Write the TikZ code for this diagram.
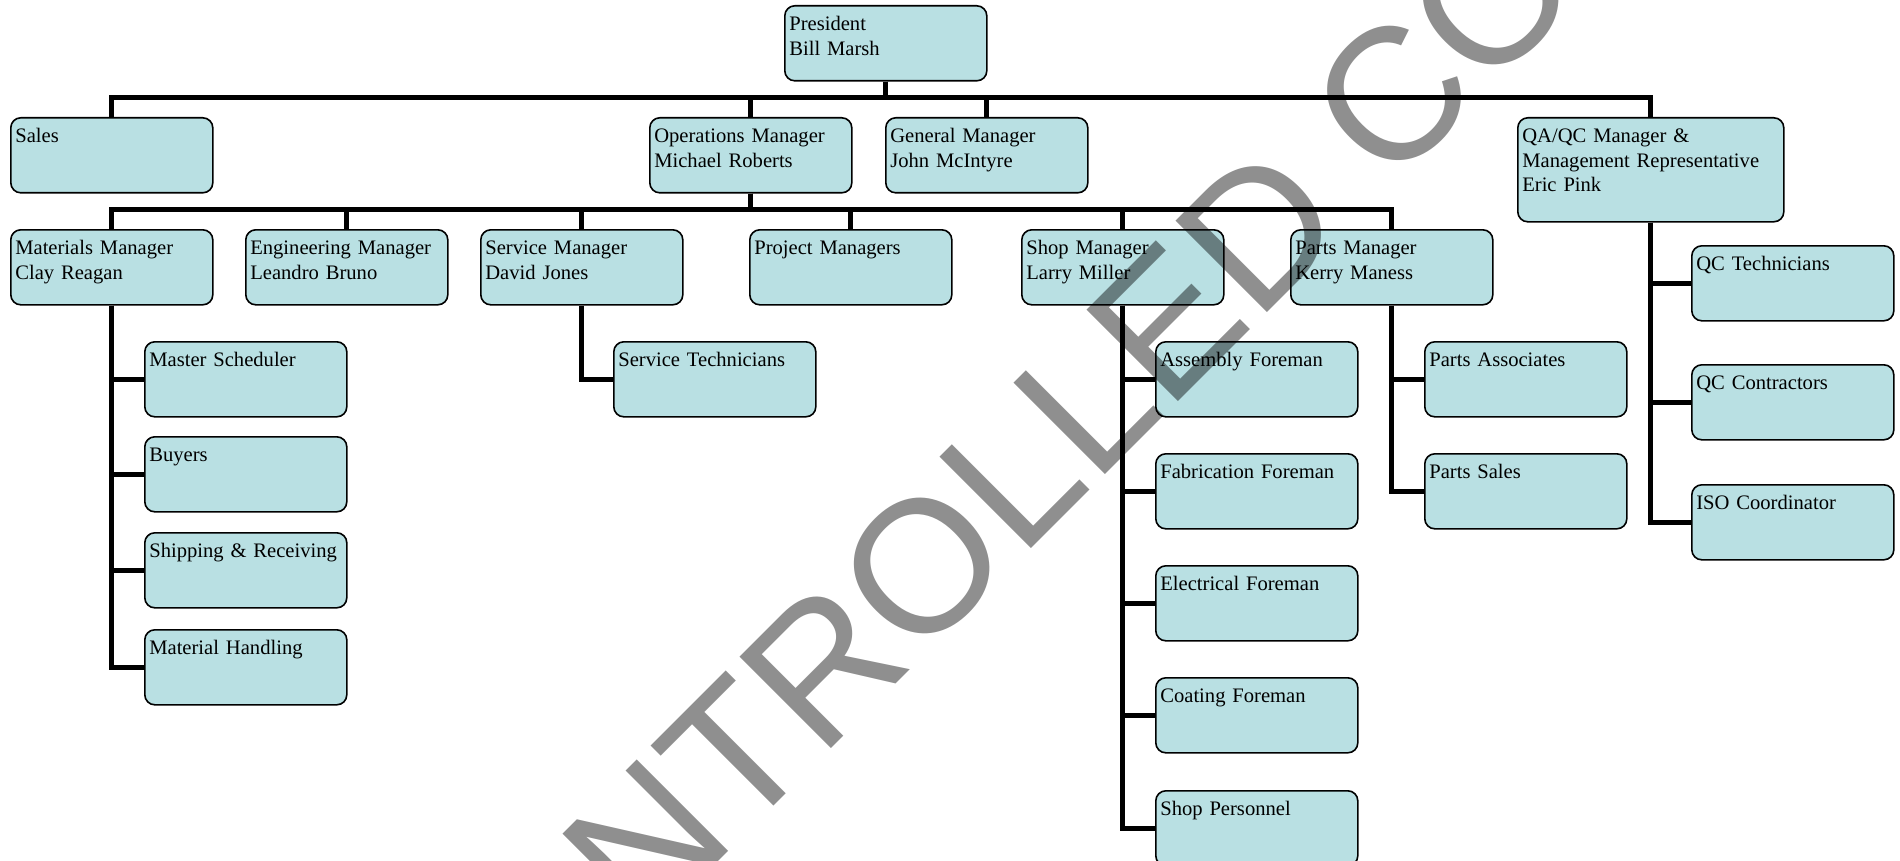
\documentclass[tikz,border=0pt]{standalone}
\usepackage{fontspec}
\setmainfont{Liberation Serif}
\newfontfamily\wmfont{Liberation Sans}
\usepackage{tikz}
\definecolor{boxfill}{RGB}{185,224,227}
\hyphenpenalty=10000

\begin{document}
\begin{tikzpicture}[x=1pt,y=-1pt,
    orgbox/.style={draw,fill=boxfill,line width=1.6pt,rounded corners=10pt,
      anchor=north west,align=left,text width=193pt,inner xsep=4.5pt,
      inner ysep=0pt,text height=25pt,text depth=50pt,
      font=\fontsize{20.6}{24.5}\selectfont},
    link/.style={line width=5pt},
    wmark/.style={text=black,text opacity=0.44,inner sep=0pt,
      font=\wmfont\fontsize{188}{188}\selectfont}]
  \useasboundingbox (0,0) rectangle (1900,861);
  \clip (0,0) rectangle (1900,861);

  \node[orgbox] (pres) at (784,5) {President\\Bill Marsh};
  \node[orgbox] (sales) at (10,117) {Sales};
  \node[orgbox] (ops) at (649,117) {Operations Manager\\Michael Roberts};
  \node[orgbox] (gm) at (885,117) {General Manager\\John McIntyre};
  \node[orgbox,text width=257pt,text depth=79pt] (qa) at (1517,117)
    {QA/QC Manager \&\\Management Representative\\Eric Pink};

  \node[orgbox] (mat) at (10,229) {Materials Manager\\Clay Reagan};
  \node[orgbox] (eng) at (245,229) {Engineering Manager\\Leandro Bruno};
  \node[orgbox] (serv) at (480,229) {Service Manager\\David Jones};
  \node[orgbox] (proj) at (749,229) {Project Managers};
  \node[orgbox] (shop) at (1021,229) {Shop Manager\\Larry Miller};
  \node[orgbox] (parts) at (1290,229) {Parts Manager\\Kerry Maness};

  \node[orgbox] (msched) at (144,341) {Master Scheduler};
  \node[orgbox] (buyers) at (144,436) {Buyers};
  \node[orgbox] (ship) at (144,532) {Shipping \& Receiving};
  \node[orgbox] (mh) at (144,629) {Material Handling};

  \node[orgbox] (stech) at (613,341) {Service Technicians};

  \node[orgbox] (asm) at (1155,341) {Assembly Foreman};
  \node[orgbox] (fab) at (1155,453) {Fabrication Foreman};
  \node[orgbox] (elec) at (1155,565) {Electrical Foreman};
  \node[orgbox] (coat) at (1155,677) {Coating Foreman};
  \node[orgbox] (shopp) at (1155,790) {Shop Personnel};

  \node[orgbox] (passoc) at (1424,341) {Parts Associates};
  \node[orgbox] (psales) at (1424,453) {Parts Sales};

  \node[orgbox] (qctech) at (1691,245) {QC Technicians};
  \node[orgbox] (qccon) at (1691,364) {QC Contractors};
  \node[orgbox] (iso) at (1691,484) {ISO Coordinator};

  \coordinate (bus1) at (0,98);
  \coordinate (bus2) at (0,210);

  \foreach \c in {sales,ops,gm,qa}
    \draw[link] (pres.south) |- (\c.north |- bus1) -- (\c.north);
  \foreach \c in {mat,eng,serv,proj,shop,parts}
    \draw[link] (ops.south) |- (\c.north |- bus2) -- (\c.north);
  \foreach \c in {msched,buyers,ship,mh}
    \draw[link] (mat.south) |- (\c.west);
  \draw[link] (serv.south) |- (stech.west);
  \foreach \c in {asm,fab,elec,coat,shopp}
    \draw[link] (shop.south) |- (\c.west);
  \foreach \c in {passoc,psales}
    \draw[link] (parts.south) |- (\c.west);
  \foreach \c in {qctech,qccon,iso}
    \draw[link] (qa.south) |- (\c.west);

  \node[wmark,anchor=base west,rotate=45] (stamp) at (252,1328)
    {UNCONTROLLED COPY};
\end{tikzpicture}
\end{document}
